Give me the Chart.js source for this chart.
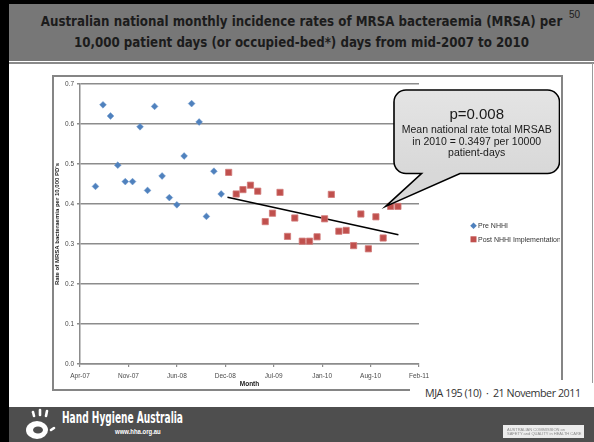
<!DOCTYPE html>
<html>
<head>
<meta charset="utf-8">
<script src="https://cdn.jsdelivr.net/npm/chart.js@4/dist/chart.umd.min.js"></script>
<style>
  html, body { margin: 0; padding: 0; }
  body { width: 594px; height: 442px; position: relative; overflow: hidden; background: #fff; font-family: 'Liberation Sans', Arial, sans-serif; }
  .abs { position: absolute; }
  #leftBar { left: 0; top: 0; width: 9px; height: 442px; background: #000; }
  #topBar { left: 0; top: 0; width: 594px; height: 4px; background: #000; }
  #titleBand { left: 9px; top: 4px; width: 585px; height: 57px; background: #777; }
  #titleLine { left: 9px; top: 62px; width: 585px; height: 1.5px; background: #8a8a8a; }
  #rightLine { left: 592px; top: 63px; width: 1px; height: 320px; background: #9a9a9a; }
  #title { left: 9px; top: 11px; width: 585px; text-align: center; color: #1c1c1c; font-family: 'DejaVu Sans Condensed', 'DejaVu Sans', sans-serif; font-weight: bold; font-size: 13.2px; line-height: 21px; }
  #pageNo { left: 569px; top: 9px; font-size: 10px; color: #1c1c1c; }
  #frame { left: 52px; top: 75px; width: 507px; height: 312px; border: 2px solid #858585; }
  #chartBox { left: 54px; top: 77px; width: 506px; height: 311px; }
  #mja { left: 410px; top: 380px; width: 180px; height: 27px; background: #fff; }
  #mjaText { left: 425px; top: 386px; font-family: 'Open Sans', sans-serif; font-size: 10.7px; color: #333; letter-spacing: -0.45px; white-space: nowrap; }
  #footer { left: 9px; top: 407px; width: 585px; height: 35px; background: #4e4e4e; }
  #hha { left: 62px; top: 408px; color: #fff; font-family: 'DejaVu Sans Condensed', Roboto, sans-serif; font-weight: bold; font-size: 16px; white-space: nowrap; transform-origin: 0 0; transform: scaleX(0.63); }
  #hhaUrl { left: 115px; top: 428px; color: #fff; font-size: 7px; font-weight: bold; white-space: nowrap; transform-origin: 0 0; transform: scaleX(0.85); }
  #acsqhc { left: 503px; top: 425px; width: 81px; height: 13px; background: #ececec; }
  #acsqhcText { left: 507px; top: 426.5px; color: #8a8a8a; font-size: 8px; line-height: 9px; white-space: nowrap; transform-origin: 0 0; transform: scale(0.5); }
</style>
</head>
<body>
<div id="leftBar" class="abs"></div>
<div id="topBar" class="abs"></div>
<div id="titleBand" class="abs"></div>
<div id="titleLine" class="abs"></div>
<div id="rightLine" class="abs"></div>
<div id="title" class="abs">Australian national monthly incidence rates of MRSA bacteraemia (MRSA) per<br>10,000 patient days (or occupied-bed*) days from mid-2007 to 2010</div>
<div id="pageNo" class="abs">50</div>
<div id="frame" class="abs"></div>
<div id="chartBox" class="abs"><canvas id="mrsaChart" width="506" height="311"></canvas></div>
<div id="mja" class="abs"></div>
<div id="mjaText" class="abs">MJA 195 (10) &nbsp;·&nbsp; 21 November 2011</div>
<div id="footer" class="abs"></div>
<svg class="abs" style="left:22px;top:408px" width="40" height="34" viewBox="0 0 40 34">
  <g stroke="#fff" stroke-width="2.6" stroke-linecap="round" fill="none">
    <line x1="11" y1="4" x2="12" y2="8"/>
    <line x1="18" y1="2" x2="18" y2="7"/>
    <line x1="25" y1="3" x2="24" y2="8"/>
    <line x1="29" y1="22" x2="32" y2="20"/>
  </g>
  <ellipse cx="15" cy="22" rx="11" ry="9" fill="#fff"/>
  <ellipse cx="16" cy="22" rx="5" ry="3.5" fill="#4e4e4e"/>
</svg>
<div id="hha" class="abs">Hand Hygiene Australia</div>
<div id="hhaUrl" class="abs">www.hha.org.au</div>
<div id="acsqhc" class="abs"></div>
<div id="acsqhcText" class="abs">AUSTRALIAN COMMISSION on<br>SAFETY and QUALITY in HEALTH CARE</div>

<script>
// months as yyyy-mm, rates per 10,000 patient days
const preMonths = ['2007-07', '2007-08', '2007-09', '2007-10', '2007-11', '2007-12',
    '2008-01', '2008-02', '2008-03', '2008-04', '2008-05', '2008-06',
    '2008-07', '2008-08', '2008-09', '2008-10', '2008-11', '2008-12'];
const preRates = [0.444, 0.648, 0.620, 0.497, 0.456, 0.456,
    0.593, 0.434, 0.644, 0.470, 0.416, 0.398,
    0.520, 0.651, 0.605, 0.369, 0.482, 0.425];

const postMonths = ['2009-01', '2009-02', '2009-03', '2009-04', '2009-05', '2009-06',
    '2009-07', '2009-08', '2009-09', '2009-10', '2009-11', '2009-12',
    '2010-01', '2010-02', '2010-03', '2010-04', '2010-05', '2010-06',
    '2010-07', '2010-08', '2010-09', '2010-10', '2010-11', '2010-12'];
const postRates = [0.479, 0.425, 0.436, 0.447, 0.432, 0.356,
    0.377, 0.429, 0.319, 0.365, 0.307, 0.307,
    0.318, 0.363, 0.424, 0.332, 0.334, 0.296,
    0.375, 0.288, 0.368, 0.315, 0.394, 0.394];

const trendMonths = ['2008-12-27', '2010-12-03'];
const trendRates = [0.417, 0.323];

// Excel-style date axis: day serials from 39200 to 40600, every 200 days
const xTickLabels = ['Apr-07', 'Nov-07', 'Jun-08', 'Dec-08', 'Jul-09', 'Jan-10', 'Aug-10', 'Feb-11'];
const xMin = 39200, xStep = 200;
const yTicks = [0, 0.1, 0.2, 0.3, 0.4, 0.5, 0.6, 0.7];

function toSerial(s) {
    const p = s.split('-').map(Number);
    return (Date.UTC(p[0], p[1] - 1, p[2] || 1) - Date.UTC(1899, 11, 30)) / 86400000;
}
function toPoints(months, rates) {
    return months.map(function(m, i) { return { x: toSerial(m), y: rates[i] }; });
}

const legendItems = [
    { text: 'Pre NHHI', style: 'rectRot', color: '#4f81bd' },
    { text: 'Post NHHI Implementation', style: 'rect', color: '#c0504d' }
];

const sideNotes = {
    id: 'sideNotes',
    afterDraw: function(chart) {
        const ctx = chart.ctx;
        const xs = chart.scales.x, ys = chart.scales.y;

        // legend
        ctx.save();
        ctx.font = '7px "Liberation Sans", Arial, sans-serif';
        ctx.textBaseline = 'middle';
        legendItems.forEach(function(item, i) {
            const cx = 419.5, cy = 148.7 + i * 13.6;
            ctx.fillStyle = item.color;
            ctx.beginPath();
            if (item.style === 'rectRot') {
                ctx.moveTo(cx, cy - 3.3); ctx.lineTo(cx + 3.3, cy);
                ctx.lineTo(cx, cy + 3.3); ctx.lineTo(cx - 3.3, cy);
            } else {
                ctx.rect(cx - 3, cy - 3, 6, 6);
            }
            ctx.closePath();
            ctx.fill();
            ctx.fillStyle = '#333';
            ctx.fillText(item.text, cx + 4.5, cy + 0.3);
        });
        ctx.restore();

        // callout pointing at the Nov-10 point
        const tipX = xs.getPixelForValue(toSerial(postMonths[22])) - 5;
        const tipY = ys.getPixelForValue(postRates[22]);
        const L = 340, T = 13, R = 505.5, B = 96.5, r = 12;
        const baseL = 367.5, baseR = 406;
        ctx.save();
        ctx.beginPath();
        ctx.moveTo(L + r, T);
        ctx.lineTo(R - r, T);
        ctx.arcTo(R, T, R, T + r, r);
        ctx.lineTo(R, B - r);
        ctx.arcTo(R, B, R - r, B, r);
        ctx.lineTo(baseR, B);
        ctx.lineTo(tipX, tipY);
        ctx.lineTo(baseL, B);
        ctx.lineTo(L + r, B);
        ctx.arcTo(L, B, L, B - r, r);
        ctx.lineTo(L, T + r);
        ctx.arcTo(L, T, L + r, T, r);
        ctx.closePath();
        const g = ctx.createLinearGradient(0, T, 0, B);
        g.addColorStop(0, '#e4e4e4');
        g.addColorStop(1, '#d8d8d8');
        ctx.fillStyle = g;
        ctx.fill();
        ctx.lineWidth = 1.6;
        ctx.strokeStyle = '#000';
        ctx.stroke();

        ctx.fillStyle = '#1a1a1a';
        ctx.textAlign = 'center';
        ctx.textBaseline = 'middle';
        ctx.font = '15px "Liberation Sans", Arial, sans-serif';
        ctx.fillText('p=0.008', 422.7, 37.5);
        ctx.font = '10.5px "Liberation Sans", Arial, sans-serif';
        ctx.fillText('Mean national rate total MRSAB', 422.7, 53);
        ctx.fillText('in 2010 = 0.3497 per 10000', 422.7, 65);
        ctx.fillText('patient-days', 422.7, 76.5);
        ctx.restore();
    }
};

const gridColor = '#8c8c8c';
const ctx = document.getElementById('mrsaChart').getContext('2d');
new Chart(ctx, {
    type: 'scatter',
    data: {
        datasets: [{
            label: 'Pre NHHI',
            data: toPoints(preMonths, preRates),
            pointStyle: 'rectRot',
            pointRadius: 3.4,
            backgroundColor: '#4f81bd',
            borderColor: '#6a96cc',
            borderWidth: 0.5
        }, {
            label: 'Post NHHI Implementation',
            data: toPoints(postMonths, postRates),
            pointStyle: 'rect',
            pointRadius: 4.4,
            backgroundColor: '#c0504d',
            borderColor: '#d27a78',
            borderWidth: 0.8
        }, {
            label: 'Trend',
            data: toPoints(trendMonths, trendRates),
            showLine: true,
            pointRadius: 0,
            borderColor: '#000',
            borderWidth: 1.6
        }]
    },
    options: {
        responsive: false,
        animation: false,
        devicePixelRatio: 1,
        layout: { padding: { top: 7, right: 141, left: 0, bottom: 0 } },
        plugins: {
            legend: { display: false },
            tooltip: { enabled: false }
        },
        scales: {
            x: {
                type: 'linear',
                min: xMin,
                max: xMin + xStep * (xTickLabels.length - 1),
                afterFit: function(scale) { scale.height = 24; },
                ticks: {
                    stepSize: xStep,
                    autoSkip: false,
                    maxRotation: 0,
                    padding: 5,
                    color: '#4a4a4a',
                    font: { family: '"Liberation Sans", Arial, sans-serif', size: 6.5 },
                    callback: function(value) { return xTickLabels[Math.round((value - xMin) / xStep)]; }
                },
                grid: { drawOnChartArea: false, drawTicks: true, tickLength: 3, color: gridColor, lineWidth: 1.2 },
                border: { color: gridColor, width: 1.5 },
                title: {
                    display: true,
                    text: 'Month',
                    color: '#1a1a1a',
                    padding: 0,
                    font: { family: '"Liberation Sans", Arial, sans-serif', size: 6.5, weight: 'bold' }
                }
            },
            y: {
                min: 0,
                max: yTicks[yTicks.length - 1],
                afterFit: function(scale) { scale.width = 26; },
                afterBuildTicks: function(scale) { scale.ticks = yTicks.map(function(v) { return { value: v }; }); },
                ticks: {
                    padding: 3,
                    color: '#4a4a4a',
                    font: { family: '"Liberation Sans", Arial, sans-serif', size: 6.5 },
                    callback: function(value) { return value.toFixed(1); }
                },
                grid: { color: gridColor, lineWidth: 1.5, tickLength: 3 },
                border: { color: gridColor, width: 1.5 },
                title: {
                    display: true,
                    text: "Rate of MRSA bacteraemia per 10,000 PD's",
                    color: '#1a1a1a',
                    padding: 0,
                    font: { family: '"Liberation Sans", Arial, sans-serif', size: 6, weight: 'bold' }
                }
            }
        }
    },
    plugins: [sideNotes]
});
</script>
</body>
</html>
